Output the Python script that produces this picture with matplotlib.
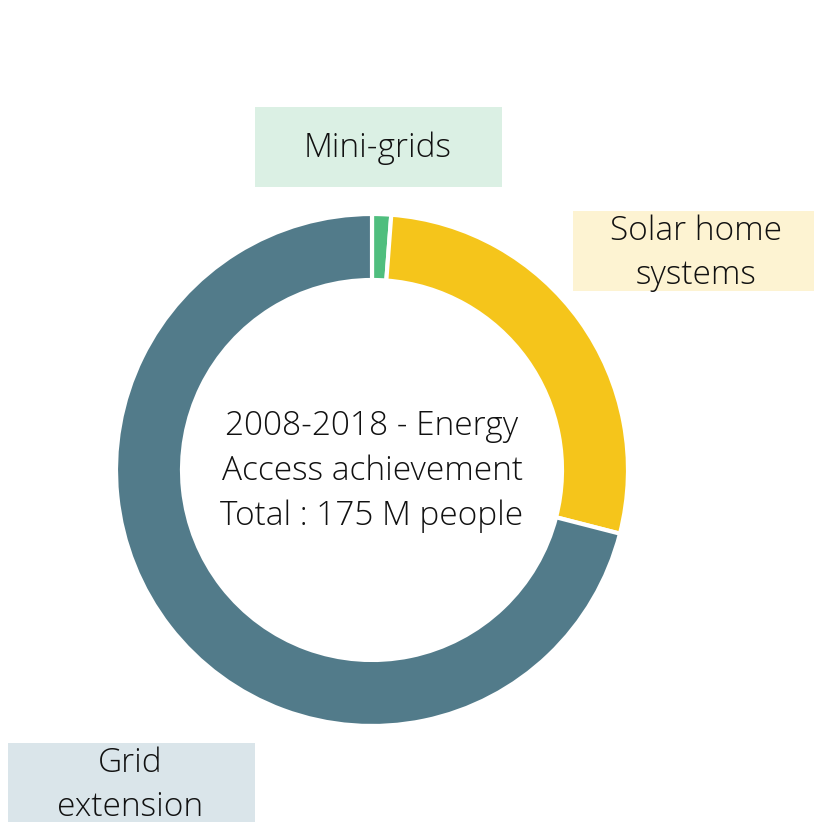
import matplotlib
matplotlib.use("Agg")
import matplotlib.pyplot as plt
from matplotlib.patches import Rectangle

categories = ["Mini-grids", "Solar home systems", "Grid extension"]
values = [1.2, 27.8, 71.0]
colors = ["#4fbe7e", "#f5c51b", "#527b8a"]
label_texts = ["Mini-grids", "Solar home\nsystems", "Grid\nextension"]
label_bg = ["#dbf0e4", "#fdf3d2", "#dae5ea"]
center_text = "2008-2018 - Energy\nAccess achievement\nTotal : 175 M people"

W, H = 814, 822
fig = plt.figure(figsize=(W / 100, H / 100), dpi=100)
ax = fig.add_axes([0, 0, 1, 1])

font = dict(family=["Open Sans", "DejaVu Sans"], fontweight="light", fontsize=24, color="#111111")

cx, cy, R = 372, 470, 256
# inverted y-axis flips direction: counterclock=True draws clockwise on screen
ax.pie(values, colors=colors, startangle=-90, counterclock=True, center=(cx, cy), radius=R,
       wedgeprops=dict(width=66, edgecolor="white", linewidth=3), frame=True)
ax.set_xlim(0, W)
ax.set_ylim(H, 0)
ax.set_aspect("equal")
ax.axis("off")

boxes = [(255, 107, 247, 80), (573, 211, 241, 80), (8, 743, 247, 90)]
text_pos = [(378, 148), (696, 253), (130, 785)]
for (x, y, w, h), (tx, ty), txt, bg in zip(boxes, text_pos, label_texts, label_bg):
    ax.add_patch(Rectangle((x, y), w, h, facecolor=bg, edgecolor="none", zorder=0))
    ax.text(tx, ty, txt, ha="center", va="center", linespacing=1.42, **font)

ax.text(cx, 471, center_text, ha="center", va="center", linespacing=1.45, **font)

fig.savefig("out.png", dpi=100)
